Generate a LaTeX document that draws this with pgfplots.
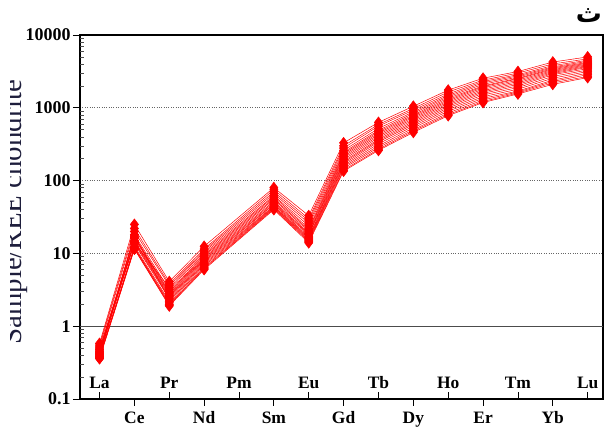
\documentclass[border=0pt]{standalone}
\usepackage{pgfplots}
\pgfplotsset{compat=1.18}
\usepackage{pgfplotstable}
\usepackage{fontspec}
\setmainfont{Liberation Serif}
\newfontfamily\arabicfont[Script=Arabic]{DejaVu Sans}
\TeXXeTstate=1
\pgfplotstableread{
x  s1   s2   s3   s4   s5   s6   s7   s8   s9   s10  s11  s12  s13  s14  s15  s16  s17  s18
0  0.58 0.55 0.52 0.50 0.40 0.47 0.45 0.44 0.43 0.42 0.41 0.48 0.39 0.38 0.38 0.37 0.36 0.36
1  25   22   20   14   18   17   16.5 16   15   14.5 14   13.5 18   12.5 12   12   11.5 11.5
2  4.1  3.8  3.6  3.4  3.2  3.0  2.9  2.8  2.7  2.6  2.5  2.4  2.3  2.2  2.1  2.0  1.95 1.9
3  12.5 11.5 11   10.5 10   9.5  9.2  8.8  8.5  8.2  7.9  7.6  7.3  7.0  6.7  6.4  6.2  6.0
5  80   75   70   66   62   60   57   55   52   50   48   47   45   44   43   42   41   40
6  33   30   28   26   24   22   21   20   19   18.5 18   17   16.5 16   15.5 15   14.5 14
7  330  300  280  260  245  235  225  215  205  195  185  178  170  162  155  148  140  135
8  630  590  560  520  490  470  450  430  410  390  370  355  340  320  300  285  270  260
9  1050 980  930  880  840  800  770  740  710  680  650  620  590  560  530  500  480  460
10 1750 1650 1550 1480 1420 1360 1300 1250 1200 1150 1100 1050 1000 950  900  850  810  780
11 2550 2400 2300 2200 2100 2000 1950 1880 1800 1720 1650 1580 1500 1420 1350 1280 1220 1180
12 3150 3000 2850 2750 2650 2550 2500 2400 2300 2200 2100 2000 1900 1800 1700 1650 1600 1550
13 4250 4000 3800 3650 3550 3450 3350 3250 3150 3050 2950 2850 2700 2550 2400 2300 2200 2100
14 5000 4700 4500 4350 4200 4100 4000 3900 3800 3700 3600 3450 3300 3150 3000 2850 2700 2600
}\data
\begin{document}
\begin{tikzpicture}
\begin{axis}[
  scale only axis, width=523bp, height=364bp,
  ymode=log, ymin=0.1, ymax=10000,
  xmin=-0.56, xmax=14.44,
  axis line style={line width=2.2bp},
  /pgf/number format/assume math mode=true,
  xtick={0,2,4,6,8,10,12,14},
  xticklabels={La,Pr,Pm,Eu,Tb,Ho,Tm,Lu},
  xtick pos=left, ytick pos=left,
  xtick align=inside,
  major tick length=7bp,
  tick style={black, line width=0.8bp},
  xticklabel style={anchor=base, yshift=11bp, font=\bfseries\fontsize{17.5}{17.5}\selectfont},
  extra x ticks={1,3,5,7,9,11,13},
  extra x tick labels={Ce,Nd,Sm,Gd,Dy,Er,Yb},
  extra x tick style={xtick align=outside, xticklabel style={yshift=-29bp}},
  ytick={0.1,1,10,100,1000,10000},
  yticklabels={0.1,1,10,100,1000,10000},
  ytick align=outside,
  yticklabel style={font=\bfseries\fontsize{18}{18}\selectfont, xshift=1bp},
  minor y tick style={draw=none},
  extra y ticks={0.2,0.3,0.4,0.5,0.6,0.7,0.8,0.9,2,3,4,5,6,7,8,9,20,30,40,50,60,70,80,90,200,300,400,500,600,700,800,900,2000,3000,4000,5000,6000,7000,8000,9000},
  extra y tick labels={},
  extra y tick style={ytick align=inside, major tick length=4bp, grid=none, tick style={line width=0.5bp, black!70}},
  ymajorgrids,
  major grid style={black!60, dotted, line width=0.7bp},
  clip=false,
]
\draw[black!70, line width=0.9bp] (rel axis cs:0,0.2) -- (rel axis cs:1,0.2);
\pgfplotsinvokeforeach{1,...,18}{
  \addplot[red, line width=0.5bp, mark=diamond*, mark size=5.5bp, mark options={solid, fill=red, draw=red}] table[x=x, y=s#1] {\data};
}
\end{axis}
\begin{scope}
\clip ([xshift=-69bp]current axis.south west) rectangle ([xshift=-40bp]current axis.north west);
\node[rotate=90, anchor=base, font=\fontsize{29}{29}\selectfont, text={rgb,255:red,30;green,30;blue,60}] at ([xshift=-58bp,yshift=5bp]current axis.west) {Sample/REE chondrite};
\end{scope}
\node[font=\bfseries\fontsize{26}{26}\selectfont] at ([xshift=-14bp,yshift=19bp]current axis.north east) {\arabicfont\beginR ث\endR};
\pgfresetboundingbox
\path ([xshift=-80bp,yshift=-30bp]current axis.south west) rectangle ([xshift=2bp,yshift=35bp]current axis.north east);
\end{tikzpicture}
\end{document}
